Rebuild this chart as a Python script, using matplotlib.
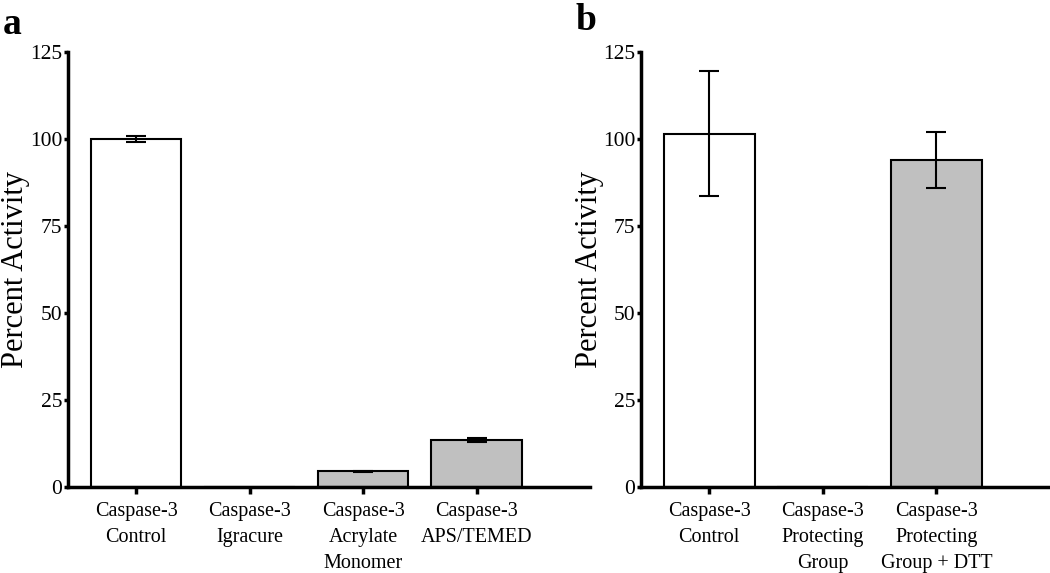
import matplotlib
matplotlib.use("Agg")
import matplotlib.pyplot as plt

# Panel a data
cats_a = ["Caspase-3\nControl", "Caspase-3\nIgracure", "Caspase-3\nAcrylate\nMonomer", "Caspase-3\nAPS/TEMED"]
vals_a = [100.0, 0.0, 4.5, 13.5]
errs_a = [1.0, 0.0, 0.1, 0.5]
colors_a = ["white", "white", "#c0c0c0", "#c0c0c0"]

# Panel b data
cats_b = ["Caspase-3\nControl", "Caspase-3\nProtecting\nGroup", "Caspase-3\nProtecting\nGroup + DTT"]
vals_b = [101.5, 0.0, 94.0]
errs_b = [18.0, 0.0, 8.0]
colors_b = ["white", "white", "#c0c0c0"]

yticks = [0, 25, 50, 75, 100, 125]

plt.rcParams['font.family'] = ['Liberation Serif', 'DejaVu Serif']

fig = plt.figure(figsize=(10.5, 5.73), dpi=100)
ax_a = fig.add_axes([68/1050, 1-487/573, (590-68)/1050, (487-52)/573])
ax_b = fig.add_axes([641/1050, 1-487/573, (1050-641)/1050, (487-52)/573])

def draw(ax, cats, vals, errs, colors, xmax, ylab_x):
    x = list(range(len(cats)))
    ax.bar(x, vals, width=0.8, color=colors, edgecolor="black", linewidth=1.5, zorder=2)
    ex = [xi for xi, e in zip(x, errs) if e > 0]
    ev = [v for v, e in zip(vals, errs) if e > 0]
    ee = [e for e in errs if e > 0]
    ax.errorbar(ex, ev, yerr=ee, fmt="none", ecolor="black", elinewidth=1.5,
                capsize=7.5, capthick=1.5, zorder=3)
    ax.set_xlim(-0.6, xmax)
    ax.set_ylim(0, 125)
    ax.set_yticks(yticks)
    ax.set_yticklabels([str(t) for t in yticks], fontsize=15.5)
    ax.set_xticks(x)
    ax.set_xticklabels(cats, fontsize=14.5, linespacing=1.5)
    for s in ["top", "right"]:
        ax.spines[s].set_visible(False)
    for s in ["left", "bottom"]:
        ax.spines[s].set_linewidth(2.5)
    ax.tick_params(axis="y", direction="out", width=2.5, length=3, pad=1)
    ax.tick_params(axis="x", direction="out", width=2.5, length=5, pad=5.5)
    ax.set_ylabel("Percent Activity", fontsize=22, va="center")
    ax.yaxis.set_label_coords(ylab_x, 0.5)

draw(ax_a, cats_a, vals_a, errs_a, colors_a, 4.0, (16-68)/522)
draw(ax_b, cats_b, vals_b, errs_b, colors_b, 3.0, (589-641)/409)

fig.text(3/1050, 1-24/573, "a", fontsize=27, fontweight="bold", va="center", ha="left")
fig.text(576/1050, 1-20/573, "b", fontsize=27, fontweight="bold", va="center", ha="left")

fig.savefig("out.png", dpi=100)
